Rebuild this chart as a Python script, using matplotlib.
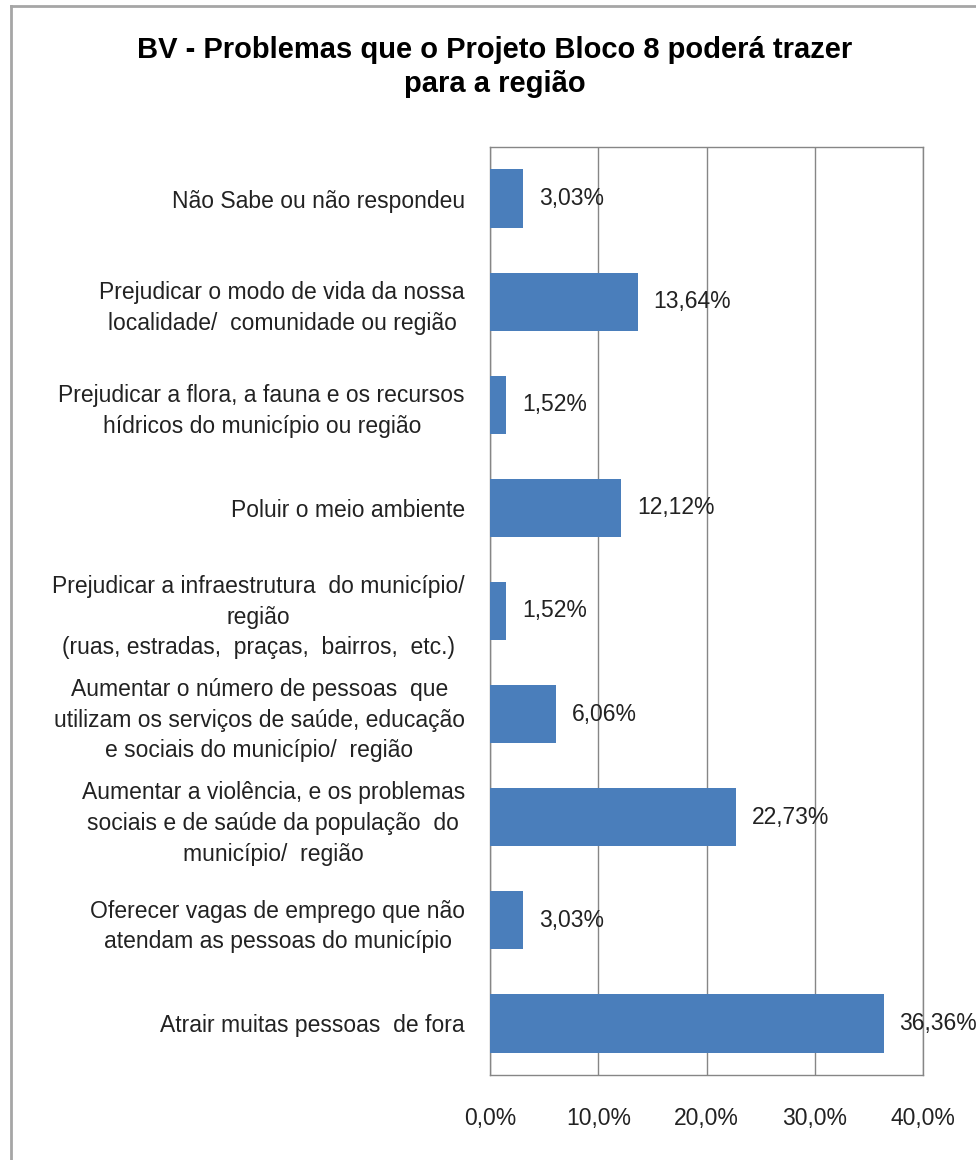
import matplotlib
matplotlib.use("Agg")
import matplotlib.pyplot as plt
from matplotlib.lines import Line2D

categories = [
    "Não Sabe ou não respondeu",
    "Prejudicar o modo de vida da nossa\nlocalidade/  comunidade ou região",
    "Prejudicar a flora, a fauna e os recursos\nhídricos do município ou região",
    "Poluir o meio ambiente",
    "Prejudicar a infraestrutura  do município/\nregião\n(ruas, estradas,  praças,  bairros,  etc.)",
    "Aumentar o número de pessoas  que\nutilizam os serviços de saúde, educação\ne sociais do município/  região",
    "Aumentar a violência, e os problemas\nsociais e de saúde da população  do\nmunicípio/  região",
    "Oferecer vagas de emprego que não\natendam as pessoas do município",
    "Atrair muitas pessoas  de fora",
]
values = [3.03, 13.64, 1.52, 12.12, 1.52, 6.06, 22.73, 3.03, 36.36]
value_labels = ["3,03%", "13,64%", "1,52%", "12,12%", "1,52%", "6,06%", "22,73%", "3,03%", "36,36%"]
xticks = [0, 10, 20, 30, 40]
xtick_labels = ["0,0%", "10,0%", "20,0%", "30,0%", "40,0%"]
title = "BV - Problemas que o Projeto Bloco 8 poderá trazer\npara a região"

plt.rcParams['font.family'] = ['Liberation Sans', 'DejaVu Sans']

W, H = 976, 1160
fig = plt.figure(figsize=(W / 100, H / 100), dpi=100)
fig.patch.set_facecolor("white")

# outer frame (left and top edges)
frame_col = "#a6a6a6"
fig.add_artist(Line2D([11 / W, 11 / W], [0, 1 - 6 / H], color=frame_col, lw=2))
fig.add_artist(Line2D([11 / W, 1], [1 - 6 / H, 1 - 6 / H], color=frame_col, lw=2))

left, right, top, bottom = 490, 923, 147, 1075
ax = fig.add_axes([left / W, 1 - bottom / H, (right - left) / W, (bottom - top) / H])

y = list(range(len(categories)))
ax.barh(y, values, height=0.565, color="#4a7ebb", zorder=3)
ax.set_ylim(len(categories) - 0.5, -0.5)
ax.set_xlim(0, 40)

ax.set_xticks(xticks)
ax.set_xticklabels(xtick_labels, fontsize=16.5, color="#222222")
ax.set_yticks(y)
ax.set_yticklabels(categories, fontsize=16.5, color="#222222")
for t in ax.get_yticklabels():
    t.set_multialignment("center")
    t.set_linespacing(1.42)
ax.tick_params(axis="y", length=0, pad=18)
ax.tick_params(axis="x", length=0, pad=23)

ax.grid(axis="x", color="#868686", lw=1, zorder=1)
for s in ax.spines.values():
    s.set_color("#868686")
    s.set_linewidth(1)

for yi, v, lab in zip(y, values, value_labels):
    ax.annotate(lab, (v, yi), xytext=(11.5, 0), textcoords="offset points",
                ha="left", va="center", fontsize=16.5, color="#222222", zorder=4)

fig.text(495 / W, 1 - 67 / H, title, ha="center", va="center",
         fontsize=21, fontweight="bold", linespacing=1.3, color="black")

fig.savefig("out.png", dpi=100, facecolor="white")
